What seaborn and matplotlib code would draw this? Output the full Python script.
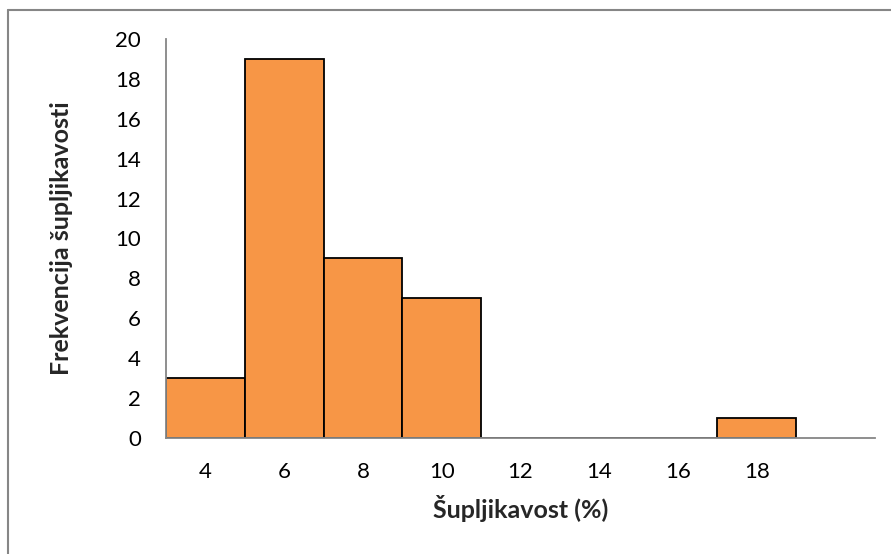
import numpy as np
import pandas as pd
import matplotlib
matplotlib.use('Agg')
import matplotlib.pyplot as plt
import seaborn as sns
from matplotlib.lines import Line2D

# Data
categories = ['4', '6', '8', '10', '12', '14', '16', '18']
counts = [3, 19, 9, 7, 0, 0, 0, 1]

df = pd.DataFrame({'kategorija': categories, 'frekvencija': counts})

sns.set_style('white')
plt.rcParams['font.family'] = ['Lato', 'DejaVu Sans']

fig = plt.figure(figsize=(8.91, 5.54), dpi=100)
ax = fig.add_axes([166 / 891, 1 - 438 / 554, (875 - 166) / 891, (438 - 39) / 554])

sns.barplot(data=df, x='kategorija', y='frekvencija', order=categories,
            color='#F79646', saturation=1, width=1.0,
            edgecolor='black', linewidth=1.3, ax=ax)

grey = '#868686'
ax.set_xlim(-0.5, len(categories) + 0.5)
ax.set_ylim(0, 20)
ax.set_yticks(range(0, 21, 2))

# category labels centred, tick marks on the boundaries
ax.set_xticks(range(len(categories)))
ax.set_xticklabels(categories)
ax.set_xticks(np.arange(-0.5, len(categories) + 1, 1), minor=True)
ax.tick_params(axis='x', which='major', length=0, pad=17, labelsize=16, colors='black')
ax.tick_params(axis='x', which='minor', length=6, width=1.3, color=grey, direction='out')
ax.tick_params(axis='y', length=6, width=1.3, color=grey, direction='out',
               labelsize=16, labelcolor='black', pad=12)

for side in ['top', 'right']:
    ax.spines[side].set_visible(False)
for side in ['left', 'bottom']:
    ax.spines[side].set_color(grey)
    ax.spines[side].set_linewidth(1.3)

ax.set_xlabel('Šupljikavost (%)', fontsize=18, fontweight='bold', labelpad=10)
ax.set_ylabel('Frekvencija šupljikavosti', fontsize=18, fontweight='bold', labelpad=30)

# grey frame of the (cropped) chart area
fig.add_artist(Line2D([7.5 / 891, 7.5 / 891], [0, 1 - 9.5 / 554],
                      color=grey, linewidth=1.5, transform=fig.transFigure))
fig.add_artist(Line2D([7.5 / 891, 1], [1 - 9.5 / 554, 1 - 9.5 / 554],
                      color=grey, linewidth=1.5, transform=fig.transFigure))

fig.savefig('out.png', dpi=100)
